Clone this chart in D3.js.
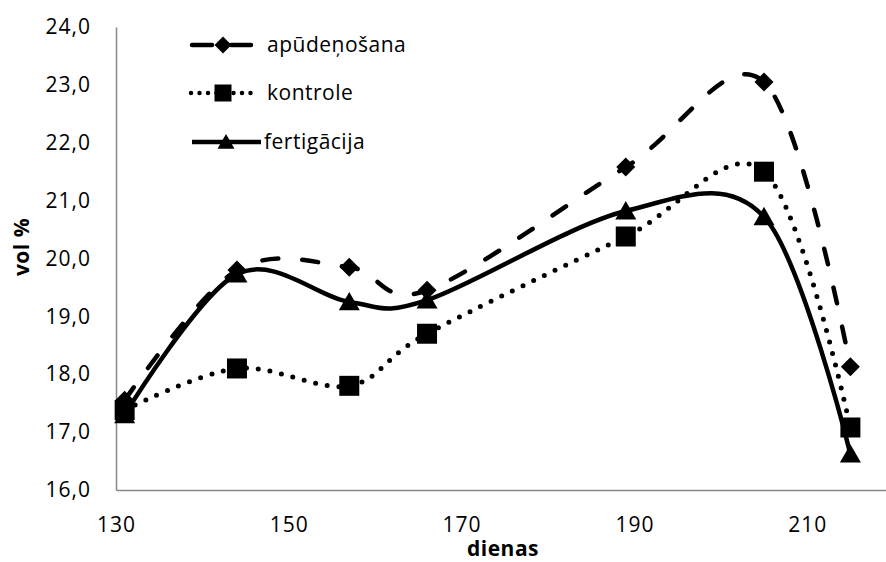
<!DOCTYPE html>
<html>
<head>
<meta charset="utf-8">
<script src="https://cdn.jsdelivr.net/npm/d3@7"></script>
<style>
    body { margin: 0; background: #fff; }
    svg { display: block; }
    .axis text { font-family: "Open Sans", sans-serif; font-size: 21px; letter-spacing: 1px; fill: #000; }
    .axis path { stroke: #888; stroke-width: 1.5px; }
    .legend text { font-family: "Open Sans", sans-serif; font-size: 21px; letter-spacing: 0.5px; fill: #000; }
    .axis-title { font-family: "Open Sans", sans-serif; font-size: 21px; font-weight: bold; letter-spacing: 0.5px; }
</style>
</head>
<body>
<div id="chart"></div>
<script>

// data
var days = [131, 144, 157, 166, 189, 205, 215];
var apudenosana = [17.55, 19.8, 19.85, 19.45, 21.58, 23.05, 18.13];
var kontrole = [17.38, 18.1, 17.8, 18.7, 20.38, 21.5, 17.08];
var fertigacija = [17.3, 19.73, 19.25, 19.28, 20.82, 20.72, 16.62];

var seriesNames = ["apūdeņošana", "kontrole", "fertigācija"];
var xTicks = [130, 150, 170, 190, 210];
var yTicks = [16, 17, 18, 19, 20, 21, 22, 23, 24];

var width = 886, height = 562;
var margin = { top: 27, left: 116, bottom: 72 };

var svg = d3.select("#chart").append("svg")
    .attr("width", width)
    .attr("height", height);

var x = d3.scaleLinear()
    .domain([130, 220])
    .range([margin.left, margin.left + 90 * 8.64]);

var y = d3.scaleLinear()
    .domain([16, 24])
    .range([height - margin.bottom, margin.top]);

var fmt = function(d) { return d.toFixed(1).replace(".", ","); };

// axes, no tick marks
svg.append("g")
    .attr("class", "axis x-axis")
    .attr("transform", "translate(0," + y(16) + ")")
    .call(d3.axisBottom(x).tickValues(xTicks).tickSize(0).tickPadding(27));

svg.append("g")
    .attr("class", "axis y-axis")
    .attr("transform", "translate(" + x(130) + ",0)")
    .call(d3.axisLeft(y).tickValues(yTicks).tickFormat(fmt).tickSize(0).tickPadding(25));

svg.append("text")
    .attr("class", "axis-title")
    .attr("x", 503)
    .attr("y", 556)
    .attr("text-anchor", "middle")
    .text("dienas");

svg.append("text")
    .attr("class", "axis-title")
    .attr("transform", "translate(29,247) rotate(-90)")
    .attr("text-anchor", "middle")
    .text("vol %");

// marker shapes, s = full width
function marker(type, s) {
    var h = s / 2;
    if (type === "diamond") return "M0," + (-h) + "L" + h + ",0L0," + h + "L" + (-h) + ",0Z";
    if (type === "square") return "M" + (-h) + "," + (-h) + "h" + s + "v" + s + "h" + (-s) + "Z";
    return "M0," + (-h * 0.95) + "L" + h + "," + (h * 0.8) + "L" + (-h) + "," + (h * 0.8) + "Z";
}

var series = [
    { name: seriesNames[0], values: apudenosana, dash: "16,24", width: 4.5, shape: "diamond", size: 19 },
    { name: seriesNames[1], values: kontrole, dash: "0,11.8", width: 5, shape: "square", size: 20 },
    { name: seriesNames[2], values: fertigacija, dash: null, width: 4.5, shape: "triangle", size: 21 }
];

var line = d3.line()
    .x(function(d) { return x(d[0]); })
    .y(function(d) { return y(d[1]); })
    .curve(d3.curveCardinal.tension(0));

var groups = svg.selectAll("g.series")
    .data(series)
    .enter().append("g")
    .attr("class", "series");

groups.append("path")
    .attr("d", function(s) { return line(d3.zip(days, s.values)); })
    .attr("fill", "none")
    .attr("stroke", "#000")
    .attr("stroke-width", function(s) { return s.width; })
    .attr("stroke-linecap", function(s) { return s.dash ? "round" : "butt"; })
    .attr("stroke-dasharray", function(s) { return s.dash; });

groups.selectAll("path.marker")
    .data(function(s) {
        return s.values.map(function(v, i) { return { x: days[i], y: v, s: s }; });
    })
    .enter().append("path")
    .attr("class", "marker")
    .attr("transform", function(d) { return "translate(" + x(d.x) + "," + y(d.y) + ")"; })
    .attr("d", function(d) { return marker(d.s.shape, d.s.size); })
    .attr("fill", "#000");

// legend
var legend = svg.append("g").attr("class", "legend");
var legendY = [45, 93, 142];

series.forEach(function(s, i) {
    var g = legend.append("g").attr("transform", "translate(0," + legendY[i] + ")");
    g.append("line")
        .attr("x1", s.shape === "square" ? 191 : 192)
        .attr("x2", s.shape === "triangle" ? 261 : 251)
        .attr("stroke", "#000")
        .attr("stroke-width", 4.5)
        .attr("stroke-linecap", s.shape === "triangle" ? "butt" : "round")
        .attr("stroke-dasharray", s.shape === "square" ? "0,8.5" : (s.dash ? "20,19" : null));
    g.append("path")
        .attr("transform", "translate(" + (s.shape === "triangle" ? 226 : 223) + ",0)")
        .attr("d", marker(s.shape, 17))
        .attr("fill", "#000");
    g.append("text")
        .attr("x", s.shape === "triangle" ? 264 : 267)
        .attr("dy", "0.35em")
        .text(s.name);
});

</script>
</body>
</html>
